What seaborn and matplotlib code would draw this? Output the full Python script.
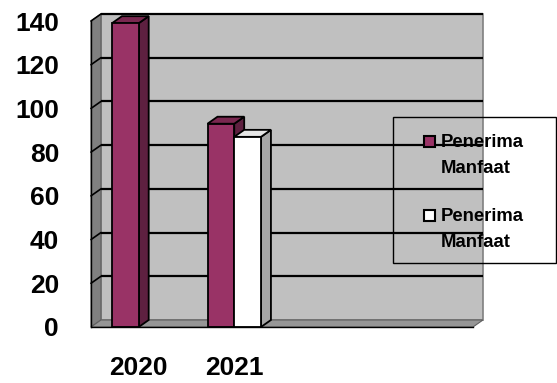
import numpy as np
import pandas as pd
import matplotlib
matplotlib.use("Agg")
import matplotlib.pyplot as plt
from matplotlib.patches import Polygon, Rectangle
import seaborn as sns

# ---- data ----
categories = ["2020", "2021", "c3", "c4"]
category_labels = ["2020", "2021", "", ""]
series_keys = ["s1", "s2"]
series_labels = ["Penerima\nManfaat", "Penerima\nManfaat"]
series1_values = [139, 93, np.nan, np.nan]
series2_values = [np.nan, 87, np.nan, np.nan]
series_colors = ["#993366", "#FFFFFF"]
side_colors = ["#5E2040", "#A6A6A6"]
y_ticks = [0, 20, 40, 60, 80, 100, 120, 140]

rows = []
for key, vals in zip(series_keys, [series1_values, series2_values]):
    for c, v in zip(categories, vals):
        if not np.isnan(v):
            rows.append({"year": c, "value": v, "series": key})
df = pd.DataFrame(rows)

sns.set_style("white")
FONT = ["Liberation Sans", "DejaVu Sans"]
plt.rcParams["font.family"] = FONT
plt.rcParams["text.color"] = "black"
plt.rcParams["xtick.color"] = "black"
plt.rcParams["ytick.color"] = "black"
plt.rcParams["axes.labelcolor"] = "black"

W, H = 557, 383
fig = plt.figure(figsize=(W / 100, H / 100), dpi=100)
ax = fig.add_axes([91 / W, (H - 327) / H, (473 - 91) / W, (327 - 21) / H])

sns.barplot(data=df, x="year", y="value", hue="series", order=categories,
            hue_order=series_keys, palette=dict(zip(series_keys, series_colors)),
            saturation=1, width=0.56, edgecolor="black", linewidth=1.3, legend=False,
            zorder=5, ax=ax)

ax.set_xlim(-0.5, 3.5)
ax.set_ylim(0, 140)

# depth of the 3D effect in data units (about 10 px right, 7 px up)
dx = 10 / 96
dy = 7 / 306 * 140
x0, x1 = -0.5, 3.5
ymax = 140

# back wall
ax.add_patch(Polygon([(x0 + dx, dy), (x1 + dx, dy), (x1 + dx, ymax + dy), (x0 + dx, ymax + dy)],
                     closed=True, facecolor="#C0C0C0", edgecolor="#808080", lw=1.2,
                     zorder=0.5, clip_on=False))
# left side wall
ax.add_patch(Polygon([(x0, 0), (x0, ymax), (x0 + dx, ymax + dy), (x0 + dx, dy)],
                     closed=True, facecolor="#808080", edgecolor="#606060", lw=0.8,
                     zorder=0.6, clip_on=False))
# floor
ax.add_patch(Polygon([(x0, 0), (x1, 0), (x1 + dx, dy), (x0 + dx, dy)],
                     closed=True, facecolor="#969696", edgecolor="#606060", lw=0.8,
                     zorder=0.6, clip_on=False))
# gridlines on back wall and side wall
for yv in y_ticks:
    if yv == 0:
        continue
    ax.plot([x0 + dx, x1 + dx], [yv + dy, yv + dy], color="black", lw=1.6,
            zorder=0.8, clip_on=False, solid_capstyle="butt")
    ax.plot([x0, x0 + dx], [yv, yv + dy], color="black", lw=1.2,
            zorder=0.8, clip_on=False)

# 3D faces for bars
bars = sorted([p for p in ax.patches if isinstance(p, Rectangle) and p.get_height() > 0
               and p.get_zorder() == 5], key=lambda p: p.get_x())
for i, p in enumerate(bars):
    bx0 = p.get_x()
    bx1 = bx0 + p.get_width()
    h = p.get_height()
    fc = p.get_facecolor()
    is_white = fc[0] > 0.9
    side = side_colors[1] if is_white else side_colors[0]
    top = "#E6E6E6" if is_white else "#7A2850"
    z = 5 + i * 0.1
    p.set_zorder(z + 0.05)
    ax.add_patch(Polygon([(bx1, 0), (bx1, h), (bx1 + dx, h + dy), (bx1 + dx, dy)], closed=True,
                         facecolor=side, edgecolor="black", lw=1.3, zorder=z, clip_on=False))
    ax.add_patch(Polygon([(bx0, h), (bx1, h), (bx1 + dx, h + dy), (bx0 + dx, h + dy)], closed=True,
                         facecolor=top, edgecolor="black", lw=1.3, zorder=z, clip_on=False))

# axes styling
for s in ["top", "right"]:
    ax.spines[s].set_visible(False)
for s in ["left", "bottom"]:
    ax.spines[s].set_color("black")
    ax.spines[s].set_linewidth(1.0)
    ax.spines[s].set_zorder(10)
ax.set_facecolor("none")
ax.set_xlabel("")
ax.set_ylabel("")

ax.set_yticks(y_ticks)
ax.set_yticklabels([str(v) for v in y_ticks])
ax.tick_params(axis="y", length=8, width=1, color="black", labelcolor="black", pad=15, labelsize=19)
ax.set_xticks([-0.5, 0.5, 1.5, 2.5, 3.5])
ax.set_xticklabels([""] * 5)
ax.tick_params(axis="x", which="major", length=10, width=1, color="black")
ax.set_xticks([0, 1, 2, 3], minor=True)
ax.set_xticklabels(category_labels, minor=True)
ax.tick_params(axis="x", which="minor", length=0, pad=21, labelsize=19, labelcolor="black")
for lab in ax.get_yticklabels() + ax.get_xticklabels(minor=True):
    lab.set_fontweight("bold")
    lab.set_family(FONT)
    lab.set_color("black")

# legend box (drawn manually to match layout)
def fx(px):
    return px / W

def fy(py):
    return 1 - py / H

fig.add_artist(Rectangle((fx(393), fy(263)), fx(556) - fx(393), fy(117) - fy(263),
                         transform=fig.transFigure, facecolor="none", edgecolor="black",
                         lw=1.0, zorder=20))
entry_tops = [136, 210]
for top_px, lab, col in zip(entry_tops, series_labels, series_colors):
    fig.add_artist(Rectangle((fx(424), fy(top_px + 11)), fx(435) - fx(424), fy(top_px) - fy(top_px + 11),
                             transform=fig.transFigure, facecolor=col, edgecolor="black",
                             lw=1.5, zorder=21))
    fig.text(fx(441), fy(top_px - 2), lab, ha="left", va="top", fontsize=13.3, color="black",
             fontweight="bold", family=FONT, linespacing=1.68, zorder=21)

fig.savefig("out.png", dpi=100)
